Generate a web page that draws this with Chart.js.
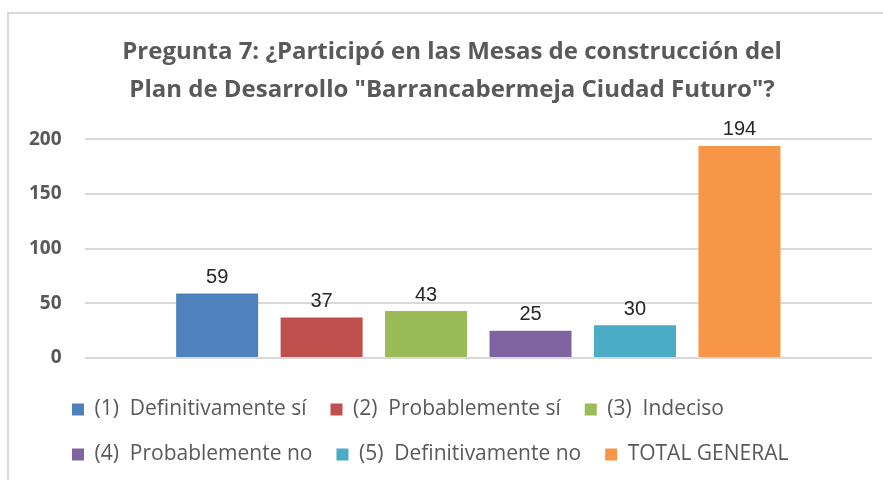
<!DOCTYPE html>
<html>
<head>
<meta charset="utf-8">
<script src="https://cdn.jsdelivr.net/npm/chart.js@4/dist/chart.umd.min.js"></script>
<style>
  html,body{margin:0;padding:0;background:#fff}
  #wrap{position:absolute;left:7px;top:12px;width:876px;height:468px;border-top:2px solid #d9d9d9;border-left:2px solid #d9d9d9}
  #c{position:absolute;left:0;top:0}
</style>
</head>
<body>
<div id="wrap"></div>
<canvas id="c" width="883" height="480"></canvas>
<script>
const titleLines = ['Pregunta 7: ¿Participó en las Mesas de construcción del', 'Plan de Desarrollo "Barrancabermeja Ciudad Futuro"?']
const categories = ['']
const seriesNames = ['(1)  Definitivamente sí', '(2)  Probablemente sí', '(3)  Indeciso', '(4)  Probablemente no', '(5)  Definitivamente no', 'TOTAL GENERAL']
const seriesValues = [59, 37, 43, 25, 30, 194]
const seriesColors = ['#4f81bd', '#c0504d', '#9bbb59', '#8064a2', '#4bacc6', '#f79646']
const yTicks = [0, 50, 100, 150, 200]

const font = '"Open Sans", sans-serif'

// labels with the value above each bar
const valueLabels = {
  id:'valueLabels',
  afterDatasetsDraw(chart){
    const ctx = chart.ctx
    ctx.save()
    ctx.font = '20px "Liberation Sans", Arial, sans-serif'
    ctx.fillStyle = '#262626'
    ctx.textAlign = 'center'
    ctx.textBaseline = 'bottom'
    chart.data.datasets.forEach((ds,i)=>{
      const bar = chart.getDatasetMeta(i).data[0]
      ctx.fillText(String(ds.data[0]), bar.x, bar.y - 6)
    })
    ctx.restore()
  }
}

// legend rows start further right than the axis labels, title sits a bit right of centre
const shiftBlocks = {
  id:'shiftBlocks',
  afterLayout(chart){
    chart.legend.left += 42
    chart.titleBlock.left += 13
    chart.titleBlock.right += 13
  }
}

new Chart(document.getElementById('c').getContext('2d'), {
  type:'bar',
  data:{
    labels: categories,
    datasets: seriesNames.map((n,i)=>({label:n, data:[seriesValues[i]], backgroundColor:seriesColors[i], borderWidth:0}))
  },
  options:{
    responsive:false,
    animation:false,
    layout:{padding:{left:6, right:11, top:34, bottom:5}},
    datasets:{bar:{categoryPercentage:0.796, barPercentage:0.785}},
    plugins:{
      title:{display:true, text:titleLines, color:'#595959', font:{family:font, size:24, weight:'bold', lineHeight:1.55}, padding:{top:0, bottom:31}},
      legend:{position:'bottom', align:'start', labels:{color:'#595959', font:{family:font, size:21}, boxWidth:12, boxHeight:12, padding:24}},
      tooltip:{enabled:false}
    },
    scales:{
      x:{grid:{display:false}, border:{display:false}, ticks:{display:false}, afterFit:s=>{s.height = 17}},
      y:{min:0, max:200, afterBuildTicks:s=>{s.ticks = yTicks.map(v=>({value:v}))},
         grid:{color:'#d9d9d9', lineWidth:2, drawTicks:false}, border:{display:false},
         ticks:{color:'#595959', padding:23, font:{family:font, size:19, weight:'bold'}}}
    }
  },
  plugins:[valueLabels, shiftBlocks]
})
</script>
</body>
</html>
